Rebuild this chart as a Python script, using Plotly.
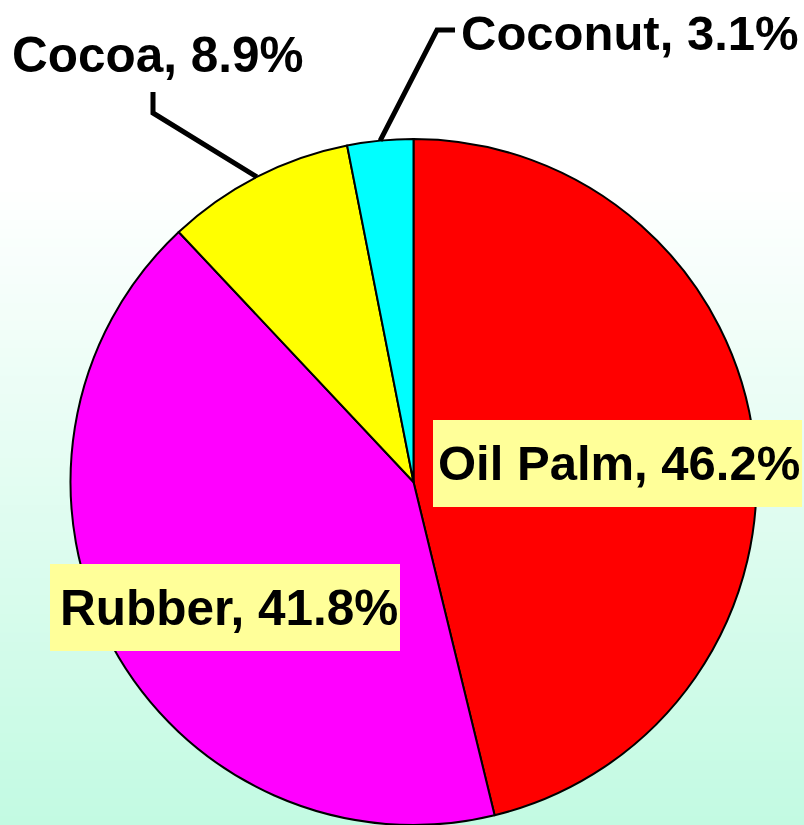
import math
import plotly.graph_objects as go

# ---- data ----
crops = ["Oil Palm", "Rubber", "Cocoa", "Coconut"]
shares = [46.2, 41.8, 8.9, 3.1]
colors = ["#FF0000", "#FF00FF", "#FFFF00", "#00FFFF"]
label_texts = [f"{c}, {v}%" for c, v in zip(crops, shares)]

W, H = 804, 825
# pie geometry (pixels)
PX0, PX1 = 70, 757
PTOP = 139

def px(x):
    return x / W

def py(y):
    return 1 - y / H

dom_x = [px(PX0), px(PX1)]
dom_y = [0.0, py(PTOP)]

fig = go.Figure()
fig.add_trace(go.Pie(
    labels=crops, values=shares, sort=False, direction="clockwise", rotation=0,
    marker=dict(colors=colors, line=dict(color="black", width=2)),
    textinfo="none", hoverinfo="label+percent", showlegend=False,
    domain=dict(x=dom_x, y=dom_y),
))

# pie centre / radius in pixels
R = min(PX1 - PX0, H - PTOP) / 2
CX = (PX0 + PX1) / 2
CY = PTOP + R
total = sum(shares)

def anchor(i):
    start = sum(shares[:i]) / total
    mid = (start + shares[i] / total / 2) * 2 * math.pi
    return CX + R * math.sin(mid), CY - R * math.cos(mid)

shapes = []
# background gradient: white at top -> mint at bottom
N = 90
top_c = (255, 255, 255)
bot_c = (194, 250, 226)
G0 = 180
for k in range(N):
    y0 = k * H / N
    y1 = (k + 1) * H / N
    t = max(0.0, (y0 - G0) / (H - G0))
    c = tuple(int(round(top_c[j] + (bot_c[j] - top_c[j]) * t)) for j in range(3))
    shapes.append(dict(type="rect", xref="paper", yref="paper", x0=0, x1=1,
                       y0=py(y1) - 0.001, y1=py(y0), line=dict(width=0),
                       fillcolor=f"rgb{c}", layer="below"))

# leader lines
def leader(i, pts):
    ax, ay = anchor(i)
    allp = [(ax, ay)] + pts
    path = "M " + " L ".join(f"{px(x):.5f},{py(y):.5f}" for x, y in allp)
    shapes.append(dict(type="path", xref="paper", yref="paper", path=path,
                       line=dict(color="black", width=5), layer="above"))

leader(3, [(437, 30), (455, 30)])
leader(2, [(153, 113), (153, 92)])

def font(size):
    return dict(family="Liberation Sans, Arial, sans-serif", size=size, color="black", weight="bold")

# label boxes as shapes (exact box sizes), text as annotations
boxes = [(433, 420, 802, 507), (50, 564, 400, 651)]
for x0, y0, x1, y1 in boxes:
    shapes.append(dict(type="rect", xref="paper", yref="paper", x0=px(x0), x1=px(x1),
                       y0=py(y1), y1=py(y0), line=dict(width=0), fillcolor="#FFFF99",
                       layer="above"))

annotations = [
    dict(text=label_texts[0], x=px(618.5), y=py(463.5), xref="paper", yref="paper",
         showarrow=False, font=font(49), xanchor="center", yanchor="middle"),
    dict(text=label_texts[1], x=px(229), y=py(607.5), xref="paper", yref="paper",
         showarrow=False, font=font(49.5), xanchor="center", yanchor="middle"),
    dict(text=label_texts[2], x=px(158), y=py(55), xref="paper", yref="paper",
         showarrow=False, font=font(49.5), xanchor="center", yanchor="middle"),
    dict(text=label_texts[3], x=px(630), y=py(33), xref="paper", yref="paper",
         showarrow=False, font=font(49), xanchor="center", yanchor="middle"),
]

fig.update_layout(
    width=W, height=H, margin=dict(l=0, r=0, t=0, b=0),
    paper_bgcolor="white", plot_bgcolor="white",
    shapes=shapes, annotations=annotations,
)
fig.write_html("out.html")
